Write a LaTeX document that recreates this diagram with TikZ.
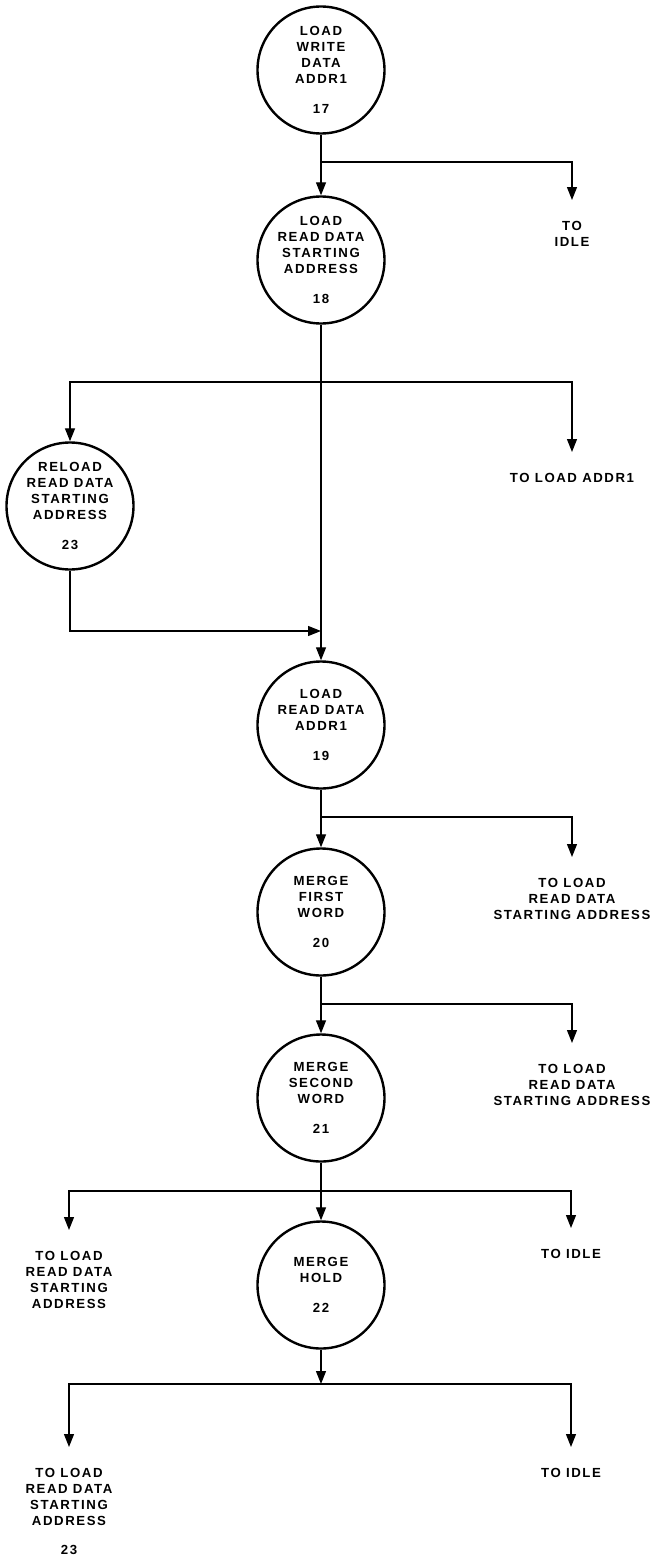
\documentclass[tikz,border=0pt]{standalone}
\usepackage{fontspec}
\newfontfamily\chartfont{Liberation Sans}[LetterSpace=12]
\usetikzlibrary{arrows.meta}

\begin{document}
\begin{tikzpicture}[x=1pt, y=-1pt,
    state/.style={circle, draw, line width=2.4pt, minimum size=127pt, inner sep=0pt,
      align=center, font=\chartfont\bfseries\fontsize{13.2}{16}\selectfont},
    lbl/.style={align=center, inner xsep=0pt, inner ysep=21pt, outer sep=0pt,
      font=\chartfont\bfseries\fontsize{13.2}{16}\selectfont},
    flow/.style={line width=1.3pt, -{Triangle[length=13pt,width=10pt]}}]
    \useasboundingbox (0,0) rectangle (657,1568);
    % States
    \node[state] (n17) at (321,70) {LOAD\\WRITE\\DATA\\ADDR1\\[14pt]17};
    \node[state] (n18) at (321,260) {LOAD\\READ DATA\\STARTING\\ADDRESS\\[14pt]18};
    \node[state] (n23) at (70,506) {RELOAD\\READ DATA\\STARTING\\ADDRESS\\[14pt]23};
    \node[state] (n19) at (321,725) {LOAD\\READ DATA\\ADDR1\\[14pt]19};
    \node[state] (n20) at (321,912) {MERGE\\FIRST\\WORD\\[14pt]20};
    \node[state] (n21) at (321,1098) {MERGE\\SECOND\\WORD\\[14pt]21};
    \node[state] (n22) at (321,1285) {MERGE\\HOLD\\[14pt]22};
    % Branch points on the main line
    \coordinate (b1) at (321,162);
    \coordinate (b2) at (321,382);
    \coordinate (m1) at (321,631);
    \coordinate (b3) at (321,817);
    \coordinate (b4) at (321,1004);
    \coordinate (b5) at (321,1191);
    \coordinate (b6) at (321,1384);
    % Exits
    \node[lbl, anchor=north] (idle1) at (572,200) {TO\\IDLE};
    \node[lbl, anchor=north] (addr1) at (572,452) {TO LOAD ADDR1};
    \node[lbl, anchor=north] (rsa1) at (572,857) {TO LOAD\\READ DATA\\STARTING ADDRESS};
    \node[lbl, anchor=north] (rsa2) at (572,1043) {TO LOAD\\READ DATA\\STARTING ADDRESS};
    \node[lbl, anchor=north] (rsa3) at (69,1230) {TO LOAD\\READ DATA\\STARTING\\ADDRESS};
    \node[lbl, anchor=north] (idle2) at (571,1228) {TO IDLE};
    \node[lbl, anchor=north] (rsa4) at (69,1447) {TO LOAD\\READ DATA\\STARTING\\ADDRESS\\[13pt]23};
    \node[lbl, anchor=north] (idle3) at (571,1447) {TO IDLE};
    % Transitions
    \draw[flow] (n17) -- (n18);
    \draw[flow] (b1) -| (idle1);
    \draw[flow] (n18) -- (n19);
    \draw[flow] (b2) -| (n23);
    \draw[flow] (b2) -| (addr1);
    \draw[flow] (n23) |- (m1);
    \draw[flow] (n19) -- (n20);
    \draw[flow] (b3) -| (rsa1);
    \draw[flow] (n20) -- (n21);
    \draw[flow] (b4) -| (rsa2);
    \draw[flow] (n21) -- (n22);
    \draw[flow] (b5) -| (rsa3);
    \draw[flow] (b5) -| (idle2);
    \draw[flow] (n22) -- (b6);
    \draw[flow] (b6) -| (rsa4);
    \draw[flow] (b6) -| (idle3);
\end{tikzpicture}
\end{document}
